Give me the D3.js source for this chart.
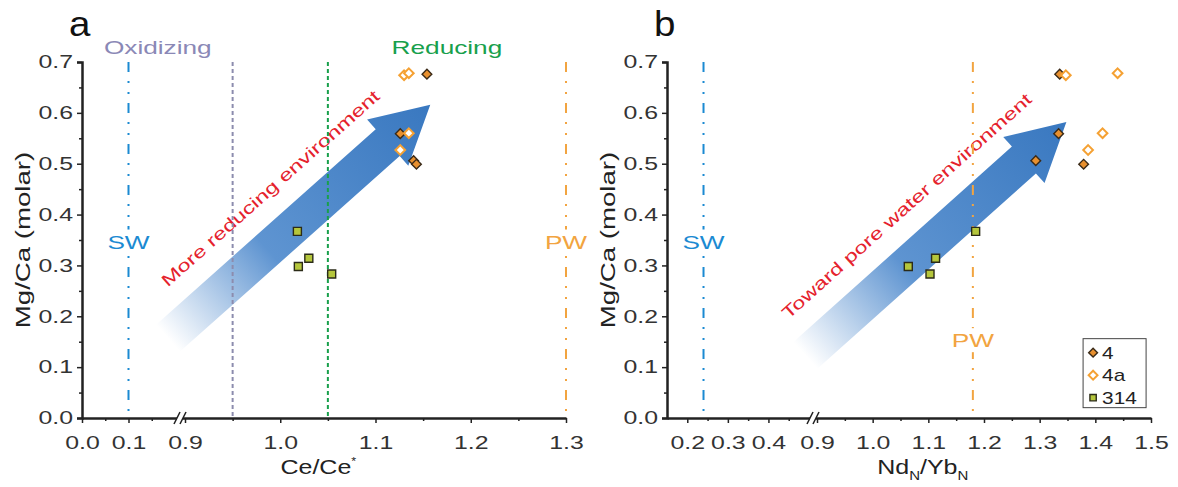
<html>
  <head>
    <script src="https://d3js.org/d3.v7.min.js"></script>
    <style>
      body { margin: 0; background: #fff; }
      text { font-family: Arial, "Liberation Sans", sans-serif; }
      .axis path, .axis line { stroke: #222; }
      .axis text { fill: #333; font-size: 18px; }
    </style>
  </head>
  <body>
    <svg id="chart" width="1178" height="487"></svg>
    <script>
      // ---- data ----
      const mgca4   = [0.676, 0.559, 0.506, 0.499];
      const ce4     = [1.154, 1.126, 1.140, 1.143];
      const ndyb4   = [1.336, 1.334, 1.293, 1.379];

      const mgca4a  = [0.674, 0.678, 0.560, 0.527];
      const ce4a    = [1.130, 1.135, 1.135, 1.126];
      const ndyb4a  = [1.347, 1.440, 1.413, 1.387];

      const mgca314 = [0.367, 0.314, 0.298, 0.283];
      const ce314   = [1.018, 1.030, 1.019, 1.054];
      const ndyb314 = [1.185, 1.113, 1.064, 1.103];

      const seriesNames = ["4", "4a", "314"];
      const yTicks = [0, 0.1, 0.2, 0.3, 0.4, 0.5, 0.6, 0.7];
      const xTicksA = [0, 0.1, 0.9, 1.0, 1.1, 1.2, 1.3];
      const xMinorA = [0.05, 0.15, 0.95, 1.05, 1.15, 1.25];
      const xTicksB = [0.2, 0.3, 0.4, 0.9, 1.0, 1.1, 1.2, 1.3, 1.4, 1.5];
      const xMinorB = [0.25, 0.35, 0.45, 0.95, 1.05, 1.15, 1.25, 1.35, 1.45];

      const svg = d3.select("svg#chart");
      const plotTop = 62, plotH = 356, plotW = 484;
      const SX = 1.38; // the figure's font is drawn wide

      const y = d3.scaleLinear().domain([0, 0.7]).range([plotH, 0]);
      // broken x axes
      const xA = d3.scaleLinear().domain([0, 0.2, 0.9, 1.3]).range([0, 93, 103, plotW]);
      const xB = d3.scaleLinear().domain([0.15, 0.5, 0.9, 1.5]).range([0, 142, 150, plotW]);

      const blue = "#1b8ad2", orange = "#f2a440", green = "#18a04c", grey = "#8c8cae";
      const dashDot = "10,9,2,9,2,9";

      function stretch(sel, sx) {
        sel.each(function() {
          const t = d3.select(this);
          const x = +t.attr("x") || 0, yy = +t.attr("y") || 0;
          t.attr("transform", `translate(${x},${yy}) scale(${sx},1) translate(${-x},${-yy})`);
        });
      }

      const defs = svg.append("defs");

      function panel(left, x, opts) {
        const g = svg.append("g").attr("transform", `translate(${left},${plotTop})`);

        // big gradient arrow
        const t0 = [x(opts.arrow[0][0]), y(opts.arrow[0][1])];
        const t1 = [x(opts.arrow[1][0]), y(opts.arrow[1][1])];
        const dx = t1[0] - t0[0], dy = t1[1] - t0[1];
        const len = Math.hypot(dx, dy), ang = Math.atan2(dy, dx) * 180 / Math.PI;
        const gid = "grad" + opts.id;
        const grad = defs.append("linearGradient").attr("id", gid)
          .attr("gradientUnits", "userSpaceOnUse")
          .attr("x1", 0).attr("y1", 0).attr("x2", len).attr("y2", 0);
        grad.append("stop").attr("offset", 0).attr("stop-color", "#ffffff");
        grad.append("stop").attr("offset", 0.38).attr("stop-color", "#5e94d1");
        grad.append("stop").attr("offset", 1).attr("stop-color", "#3978c0");
        const sw = 18, hw = 31, hl = 57;
        const ag = g.append("g").attr("transform", `translate(${t0[0]},${t0[1]}) rotate(${ang})`);
        ag.append("path")
          .attr("d", `M0,${-sw}L${len - hl},${-sw}L${len - hl},${-hw}L${len},0L${len - hl},${hw}L${len - hl},${sw}L0,${sw}Z`)
          .attr("fill", `url(#${gid})`);
        ag.append("text")
          .attr("x", len - hl - 118).attr("y", -sw - 20)
          .attr("text-anchor", "middle")
          .attr("font-size", 17)
          .attr("fill", "#e5222d")
          .text(opts.arrowText)
          .call(stretch, SX);

        // reference lines
        opts.refs.forEach(([v, lab, col, dash]) => {
          g.append("line")
            .attr("x1", x(v)).attr("x2", x(v)).attr("y1", 0).attr("y2", plotH)
            .attr("stroke", col).attr("stroke-width", 2).attr("stroke-dasharray", dash);
        });
        opts.refLabels.forEach(([v, yv, lab, col]) => {
          g.append("rect").attr("x", x(v) - 22).attr("y", y(yv) - 12)
            .attr("width", 44).attr("height", 24).attr("fill", "#fff");
          g.append("text")
            .attr("x", x(v)).attr("y", y(yv) + 7)
            .attr("text-anchor", "middle").attr("font-size", 19).attr("fill", col)
            .text(lab).call(stretch, SX);
        });

        // points
        const sq = d3.symbol().type(d3.symbolSquare).size(64);
        const dm = d3.symbol().type(d3.symbolDiamond2).size(60);
        g.selectAll(".p314").data(opts.s314).join("path")
          .attr("transform", d => `translate(${x(d[0])},${y(d[1])})`)
          .attr("d", sq).attr("fill", "#b5c63c").attr("stroke", "#2b2b18").attr("stroke-width", 1.4);
        g.selectAll(".p4").data(opts.s4).join("path")
          .attr("transform", d => `translate(${x(d[0])},${y(d[1])})`)
          .attr("d", dm).attr("fill", "#e8902f").attr("stroke", "#3a2a18").attr("stroke-width", 1.4);
        g.selectAll(".p4a").data(opts.s4a).join("path")
          .attr("transform", d => `translate(${x(d[0])},${y(d[1])})`)
          .attr("d", dm).attr("fill", "#fff").attr("stroke", "#f5a133").attr("stroke-width", 2);

        // axes
        const ya = g.append("g").attr("class", "axis")
          .call(d3.axisLeft(y).tickValues(yTicks).tickFormat(d3.format(".1f")).tickSize(5).tickPadding(4));
        g.append("g").attr("class", "axis")
          .call(d3.axisLeft(y).tickValues(d3.range(0.05, 0.7, 0.1)).tickFormat("").tickSize(3))
          .select(".domain").remove();
        ya.selectAll("text").call(stretch, SX);

        const xa = g.append("g").attr("class", "axis").attr("transform", `translate(0,${plotH})`)
          .call(d3.axisBottom(x).tickValues(opts.ticks).tickFormat(d3.format(".1f")).tickSize(5).tickPadding(13).tickSizeOuter(0));
        g.append("g").attr("class", "axis").attr("transform", `translate(0,${plotH})`)
          .call(d3.axisBottom(x).tickValues(opts.minor).tickFormat("").tickSize(3))
          .select(".domain").remove();
        xa.selectAll("text").call(stretch, SX);
        g.selectAll(".axis .domain").attr("stroke-width", 2.5);
        g.selectAll(".axis .tick line").attr("stroke-width", 1.5);

        // axis break
        const m = (x(opts.brk[0]) + x(opts.brk[1])) / 2;
        g.append("rect").attr("x", m - 3).attr("y", plotH - 3).attr("width", 6).attr("height", 6).attr("fill", "#fff");
        [-3, 3].forEach(o => {
          g.append("line").attr("x1", m + o - 3).attr("y1", plotH + 6).attr("x2", m + o + 3).attr("y2", plotH - 6)
            .attr("stroke", "#222").attr("stroke-width", 1.5);
        });

        // axis titles
        g.append("text")
          .attr("transform", `translate(${-52},${plotH / 2}) rotate(-90) scale(${SX},1)`)
          .attr("text-anchor", "middle").attr("font-size", 20).attr("fill", "#222")
          .text("Mg/Ca (molar)");
        g.append("text").attr("x", opts.titleX).attr("y", plotH + 56)
          .attr("text-anchor", "middle").attr("font-size", 20).attr("fill", "#222")
          .call(opts.title).call(stretch, 1.25);

        // panel letter
        g.append("text").attr("x", -13).attr("y", -26).attr("font-size", 35).attr("fill", "#111")
          .text(opts.id).call(stretch, 1.1);
        return g;
      }

      const zip = (xs, ys) => xs.map((v, i) => [v, ys[i]]);

      const ga = panel(82, xA, {
        id: "a",
        arrow: [[0.185, 0.157], [1.1575, 0.616]],
        arrowText: "More reducing environment",
        refs: [[0.1, "SW", blue, dashDot], [0.95, "", grey, "4,3"], [1.05, "", green, "4,3"], [1.3, "PW", orange, dashDot]],
        refLabels: [[0.1, 0.347, "SW", blue], [1.3, 0.347, "PW", orange]],
        s314: zip(ce314, mgca314), s4: zip(ce4, mgca4), s4a: zip(ce4a, mgca4a),
        ticks: xTicksA, minor: xMinorA, brk: [0.2, 0.9],
        titleX: xA(1.04),
        title: t => { t.text("Ce/Ce"); t.append("tspan").attr("dy", -9).attr("font-size", 10).text("*"); }
      });
      ga.append("text").attr("x", xA(0.163)).attr("y", -8).attr("text-anchor", "middle")
        .attr("font-size", 19).attr("fill", "#8a88b6").text("Oxidizing").call(stretch, SX);
      ga.append("text").attr("x", xA(1.175)).attr("y", -8).attr("text-anchor", "middle")
        .attr("font-size", 19).attr("fill", green).text("Reducing").call(stretch, SX);

      const gb = panel(667, xB, {
        id: "b",
        arrow: [[0.491, 0.123], [1.348, 0.582]],
        arrowText: "Toward pore water environment",
        refs: [[0.24, "SW", blue, dashDot], [1.18, "PW", orange, dashDot]],
        refLabels: [[0.24, 0.347, "SW", blue], [1.18, 0.153, "PW", orange]],
        s314: zip(ndyb314, mgca314), s4: zip(ndyb4, mgca4), s4a: zip(ndyb4a, mgca4a),
        ticks: xTicksB, minor: xMinorB, brk: [0.5, 0.9],
        titleX: xB(1.09),
        title: t => {
          t.text("Nd");
          t.append("tspan").attr("dy", 6).attr("font-size", 12).text("N");
          t.append("tspan").attr("dy", -6).text("/Yb");
          t.append("tspan").attr("dy", 6).attr("font-size", 12).text("N");
        }
      });

      // legend
      const lg = gb.append("g").attr("transform", `translate(${xB(1.378)},${y(0.156)})`);
      lg.append("rect").attr("width", 63).attr("height", 69).attr("fill", "#fff").attr("stroke", "#444").attr("stroke-width", 1);
      const legSym = [
        {t: d3.symbolDiamond2, fill: "#e8902f", stroke: "#3a2a18", w: 1.4},
        {t: d3.symbolDiamond2, fill: "#fff", stroke: "#f5a133", w: 2},
        {t: d3.symbolSquare, fill: "#b5c63c", stroke: "#2b2b18", w: 1.4}
      ];
      seriesNames.forEach((name, i) => {
        const s = legSym[i];
        lg.append("path").attr("transform", `translate(10,${14 + i * 22.5})`)
          .attr("d", d3.symbol().type(s.t).size(i === 2 ? 40 : 50)())
          .attr("fill", s.fill).attr("stroke", s.stroke).attr("stroke-width", s.w);
        lg.append("text").attr("x", 19).attr("y", 20 + i * 22.5).attr("font-size", 16).attr("fill", "#222")
          .text(name).call(stretch, 1.3);
      });
    </script>
  </body>
</html>
